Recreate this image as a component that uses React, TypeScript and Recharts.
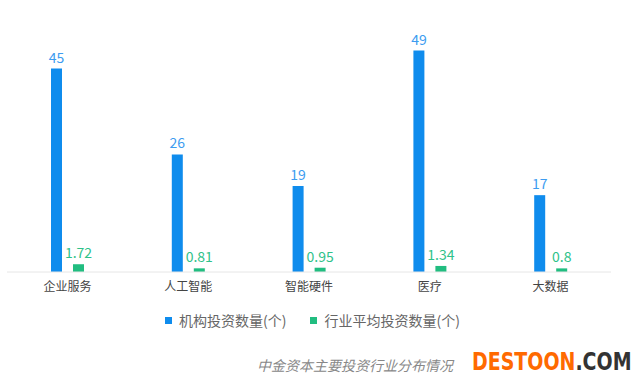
import { BarChart, Bar, XAxis, YAxis, LabelList } from "recharts";

const categories = ["企业服务", "人工智能", "智能硬件", "医疗", "大数据"];
const orgCounts = [45, 26, 19, 49, 17];
const industryAvg = [1.72, 0.81, 0.95, 1.34, 0.8];
const seriesNames = ["机构投资数量(个)", "行业平均投资数量(个)"];

const BLUE = "#0f8ced";
const GREEN = "#21bd80";
const FONT = "'Noto Sans CJK SC', 'Noto Sans', sans-serif";

const data = categories.map((name, i) => ({
  name,
  org: orgCounts[i],
  avg: industryAvg[i],
}));

export default function App() {
  return (
    <div
      style={{
        position: "absolute",
        left: 0,
        top: 0,
        width: 643,
        height: 383,
        background: "#fff",
        fontFamily: FONT,
        overflow: "hidden",
      }}
    >
      <BarChart
        width={643}
        height={383}
        data={data}
        margin={{ top: 46, right: 32, bottom: 81, left: 7 }}
        barGap={11}
      >
        <XAxis
          dataKey="name"
          tickLine={false}
          axisLine={{ stroke: "#e6e6e6" }}
          tick={{ fill: "#444", fontSize: 12, fontFamily: FONT }}
          tickMargin={4}
        />
        <YAxis hide domain={[0, 50]} />
        <Bar dataKey="org" fill={BLUE} barSize={11} isAnimationActive={false}>
          <LabelList
            dataKey="org"
            position="top"
            offset={6}
            style={{ fill: "#3d9cf0", fontSize: 14, fontFamily: FONT }}
          />
        </Bar>
        <Bar dataKey="avg" fill={GREEN} barSize={11} isAnimationActive={false}>
          <LabelList
            dataKey="avg"
            position="top"
            offset={6}
            style={{ fill: "#2fc28a", fontSize: 14, fontFamily: FONT }}
          />
        </Bar>
      </BarChart>

      <div
        style={{
          position: "absolute",
          top: 310,
          left: 165,
          display: "flex",
          alignItems: "center",
          fontSize: 14,
          color: "#666",
          whiteSpace: "nowrap",
        }}
      >
        {seriesNames.map((n, i) => (
          <div
            key={n}
            style={{ display: "flex", alignItems: "center", marginRight: i === 0 ? 24 : 0 }}
          >
            <span
              style={{
                display: "inline-block",
                width: 7,
                height: 7,
                background: i === 0 ? BLUE : GREEN,
                marginRight: 7,
              }}
            />
            <span>{n}</span>
          </div>
        ))}
      </div>

      <div
        style={{
          position: "absolute",
          top: 355,
          left: 257,
          fontSize: 14,
          fontStyle: "italic",
          color: "#888",
          whiteSpace: "nowrap",
        }}
      >
        中金资本主要投资行业分布情况
      </div>
      <div
        style={{
          position: "absolute",
          top: 348,
          left: 472,
          fontSize: 24,
          lineHeight: "28px",
          fontWeight: 700,
          fontFamily: "'DejaVu Sans', sans-serif",
          whiteSpace: "nowrap",
          transform: "scaleX(0.79)",
          transformOrigin: "left top",
        }}
      >
        <span style={{ color: "#ff6a00" }}>DESTOON</span>
        <span style={{ color: "#333" }}>.COM</span>
      </div>
    </div>
  );
}
